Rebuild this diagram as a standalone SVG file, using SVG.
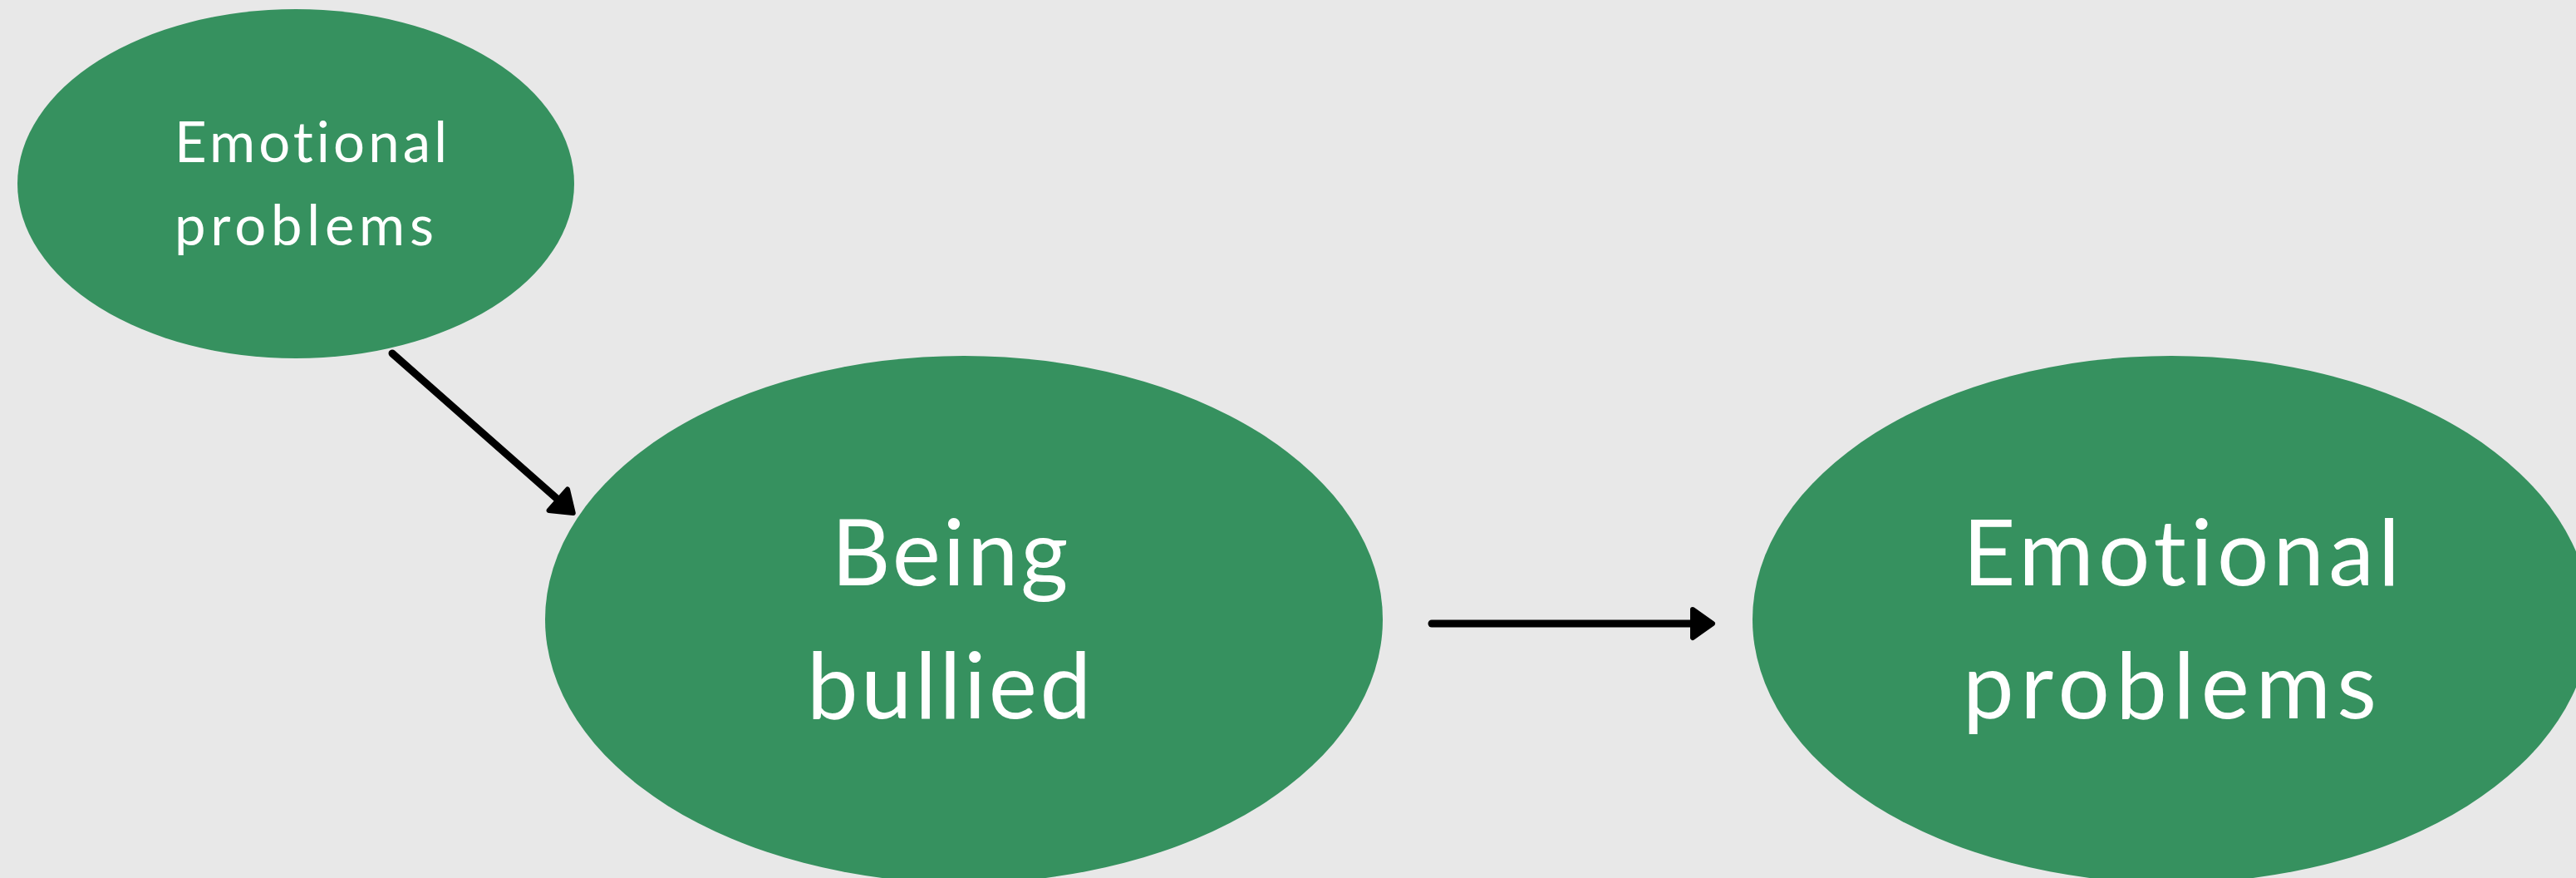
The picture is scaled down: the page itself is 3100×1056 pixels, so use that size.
<svg xmlns="http://www.w3.org/2000/svg" width="3100" height="1056" viewBox="0 0 3100 1056">
  <style>
    .node { fill: #36915f; }
    .label { fill: #ffffff; font-family: Lato, "Open Sans", sans-serif; text-anchor: middle; font-variant-ligatures: none; }
    .edge { stroke: #000000; stroke-width: 9; stroke-linecap: round; fill: none; }
  </style>
  <defs>
    <marker id="arrow" markerUnits="userSpaceOnUse" markerWidth="40" markerHeight="40" viewBox="0 0 30 40" refX="3" refY="20" orient="auto" overflow="visible">
      <path d="M3,3 L27,20 L3,37 Z" fill="#000" stroke="#000" stroke-width="6" stroke-linejoin="round"/>
    </marker>
  </defs>
  <rect width="3100" height="1056" fill="#e8e8e8"/>
  <g id="node-emotional-1">
    <ellipse class="node" cx="356" cy="221" rx="335" ry="210"/>
    <text class="label" font-size="67" x="374" y="195" textLength="328" lengthAdjust="spacing">Emotional</text>
    <text class="label" font-size="67" x="366" y="295" textLength="312" lengthAdjust="spacing">problems</text>
  </g>
  <g id="node-bullied">
    <ellipse class="node" cx="1160" cy="745" rx="504" ry="317"/>
    <text class="label" font-size="110" x="1143" y="704" textLength="285" lengthAdjust="spacing">Being</text>
    <text class="label" font-size="110" x="1142" y="864" textLength="342" lengthAdjust="spacing">bullied</text>
  </g>
  <g id="node-emotional-2">
    <ellipse class="node" cx="2613" cy="745" rx="504" ry="317"/>
    <text class="label" font-size="110" x="2625" y="704" textLength="526" lengthAdjust="spacing">Emotional</text>
    <text class="label" font-size="110" x="2611" y="864" textLength="498" lengthAdjust="spacing">problems</text>
  </g>
  <g id="connectors">
    <line class="edge" x1="472" y1="425" x2="671.75" y2="601.15" marker-end="url(#arrow)"/>
    <line class="edge" x1="1723" y1="750" x2="2037" y2="750" marker-end="url(#arrow)"/>
  </g>
</svg>
